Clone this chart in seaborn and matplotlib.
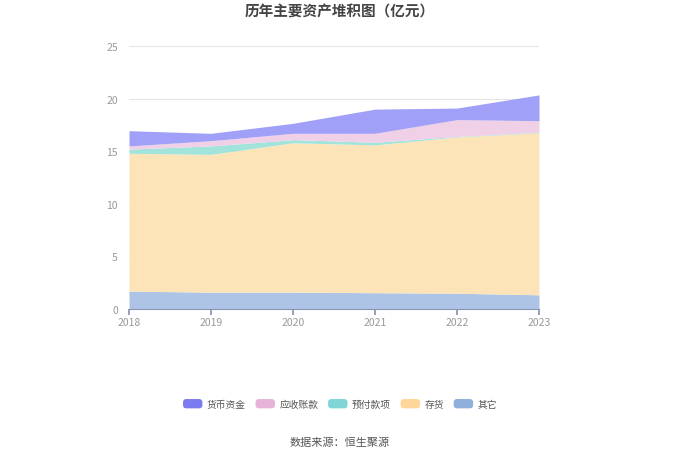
import matplotlib
matplotlib.use("Agg")
import matplotlib.pyplot as plt
import seaborn as sns
from matplotlib.patches import Patch, FancyBboxPatch
from matplotlib.legend_handler import HandlerPatch

years = [2018, 2019, 2020, 2021, 2022, 2023]
other = [1.7, 1.6, 1.6, 1.55, 1.5, 1.35]
inventory = [13.1, 13.1, 14.2, 14.05, 14.85, 15.4]
prepaid = [0.4, 0.8, 0.3, 0.25, 0.05, 0.05]
receivable = [0.3, 0.5, 0.6, 0.85, 1.6, 1.1]
cash = [1.45, 0.7, 0.95, 2.3, 1.1, 2.45]

series_names = ["货币资金", "应收账款", "预付款项", "存货", "其它"]
legend_colors = ["#7b7bef", "#e6b4d8", "#80d6d6", "#ffd699", "#8eaedc"]
fill_colors = ["#a0a0f8", "#f0d0e6", "#a2e4dc", "#fde4b8", "#adc4e6"]

sns.set_theme(style="white")
plt.rcParams["font.family"] = ["Noto Sans CJK SC", "DejaVu Sans"]


class RoundHandler(HandlerPatch):
    def create_artists(self, legend, orig_handle, xdescent, ydescent, width, height, fontsize, trans):
        p = FancyBboxPatch((-xdescent, -ydescent), width, height,
                           boxstyle="round,pad=0,rounding_size=2.5",
                           facecolor=orig_handle.get_facecolor(), edgecolor="none",
                           transform=trans)
        return [p]


fig = plt.figure(figsize=(6.8, 4.6), dpi=100)
ax = fig.add_axes([129 / 680, 1 - 310 / 460, 410 / 680, 263 / 460])

stack = [other, inventory, prepaid, receivable, cash]
ax.stackplot(years, *stack, colors=fill_colors[::-1], linewidth=0)

ax.set_xlim(2018, 2023)
ax.set_ylim(0, 25)
ax.set_yticks([0, 5, 10, 15, 20, 25])
ax.set_xticks(years)
ax.set_xticklabels([str(y) for y in years])
ax.yaxis.grid(True, color="#e6e6e6", linewidth=0.8)
ax.set_axisbelow(True)
for s in ["left", "right", "top"]:
    ax.spines[s].set_visible(False)
ax.spines["bottom"].set_color("#8a94b0")
ax.spines["bottom"].set_linewidth(0.8)
ax.tick_params(axis="x", length=4, color="#8a94b0", labelsize=7.5, labelcolor="#999999", pad=2, bottom=True)
ax.tick_params(axis="y", length=0, labelsize=7.5, labelcolor="#999999", pad=8)

fig.text(0.5, 1 - 12 / 460, "历年主要资产堆积图（亿元）", ha="center", va="center",
         fontsize=10.5, fontweight="bold", color="#444444")

handles = [Patch(facecolor=c, edgecolor="none") for c in legend_colors]
leg = fig.legend(handles, series_names, loc="center", bbox_to_anchor=(0.5, 1 - 405 / 460),
                 ncol=5, frameon=False, fontsize=7, handlelength=2.0, handleheight=1.1,
                 columnspacing=1.0, handletextpad=0.45,
                 handler_map={Patch: RoundHandler()})
for t in leg.get_texts():
    t.set_color("#555555")

fig.text(0.5, 1 - 443 / 460, "数据来源：恒生聚源", ha="center", va="center",
         fontsize=8, color="#555555")

fig.savefig("out.png", dpi=100)
